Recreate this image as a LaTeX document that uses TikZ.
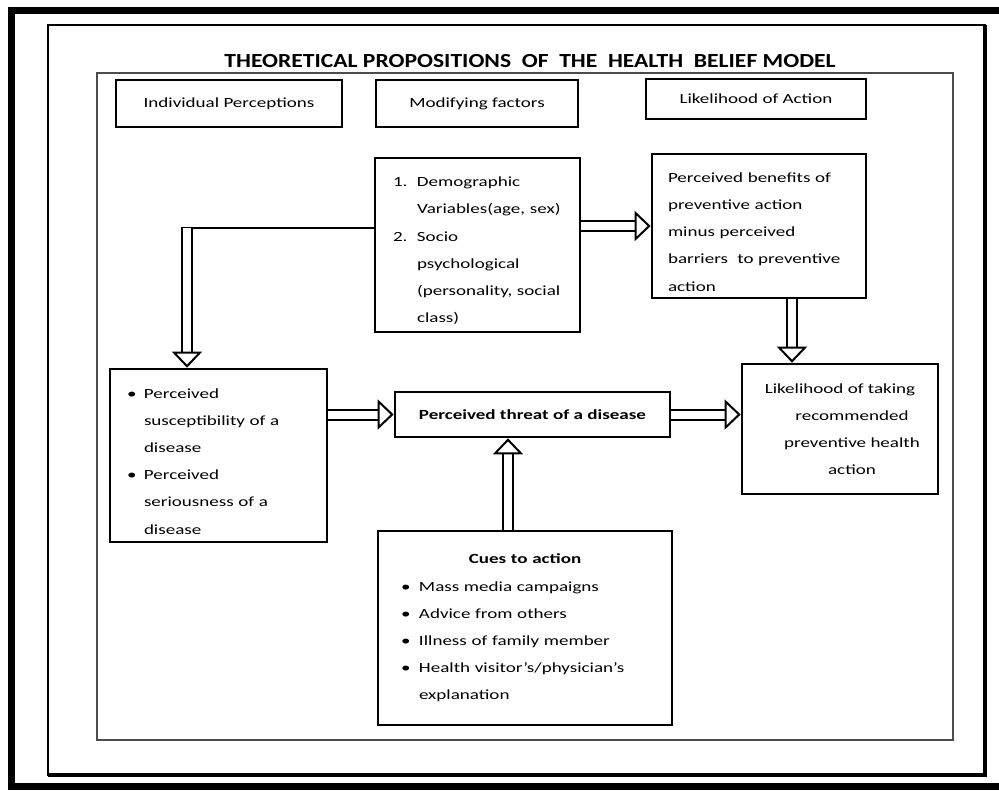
\documentclass[tikz,border=0pt]{standalone}
\usepackage{fontspec}
\setmainfont[FakeStretch=1.36]{Carlito}
\newfontfamily\hbmtitle[FakeStretch=1.18]{Carlito}
\usetikzlibrary{arrows.meta}
\newlength\itmsep
\newcommand{\itm}[2][\textbullet]{\makebox[\itmsep][l]{#1}\mbox{#2}}
\newcommand{\cont}[1]{\hspace*{\itmsep}\mbox{#1}}
\newcommand{\topstrut}{\rule{0pt}{16pt}}
\begin{document}
\begin{tikzpicture}[x=0.75pt,y=-0.75pt,
	box/.style={draw,line width=2pt,inner sep=0pt,font=\fontsize{10.5}{20.4}\selectfont},
	hollow/.style={draw,line width=1.5pt,double,double distance=6pt,-{Triangle[length=12pt,width=22.5pt,line width=1.5pt,fill=white]}}]
	\useasboundingbox (0,0) rectangle (999,790);
	\clip (0,0) rectangle (999,790);
	\draw[line width=5.25pt] (11,10) rectangle (1010,786);
	\draw[line width=1.5pt] (48,25) rectangle (985,775);
	\draw[line width=2.5pt] (985,25) -- (985,775) -- (48,775);
	\draw[black!70,line width=1.5pt] (97,73) rectangle (953,740);
	\node (title) at (530,61) {\hbmtitle\fontsize{15}{18}\selectfont\bfseries THEORETICAL PROPOSITIONS\ \ OF\ \ THE\ \ HEALTH\ \ BELIEF MODEL};
	\node[box,minimum width=169.5pt,minimum height=35.25pt] (hdrIP) at (229,103.5) {Individual Perceptions};
	\node[box,minimum width=151.5pt,minimum height=35.25pt] (hdrMF) at (477,103.5) {Modifying factors};
	\node[box,minimum width=165pt,minimum height=30pt] (hdrLA) at (756,99) {Likelihood of Action};
	\node[box,minimum width=153.75pt,minimum height=130.5pt,text width=126.75pt,align=left] (demo) at (477.5,245)
		{\setlength{\itmsep}{18pt}\topstrut\itm[1.]{Demographic}\\ \cont{Variables(age, sex)}\\ \itm[2.]{Socio}\\ \cont{psychological}\\ \cont{(personality, social}\\ \cont{class)}};
	\node[box,minimum width=160.5pt,minimum height=108pt,text width=136.5pt,align=left] (ben) at (759,226)
		{\topstrut Perceived benefits of\\ preventive action\\ minus perceived\\ barriers\ \ to preventive\\ action};
	\node[box,minimum width=162.75pt,minimum height=129.75pt,text width=137.25pt,align=left] (perc) at (218.5,455.5)
		{\setlength{\itmsep}{12.75pt}\topstrut\itm{Perceived}\\ \cont{susceptibility of a}\\ \cont{disease}\\ \itm{Perceived}\\ \cont{seriousness of a}\\ \cont{disease}};
	\node[box,minimum width=206.25pt,minimum height=33.75pt] (threat) at (532.5,414.5) {\bfseries Perceived threat of a disease};
	\node[box,minimum width=147pt,minimum height=97.5pt,align=center] (lhood) at (840,429)
		{Likelihood of taking\\ \hspace*{18pt}recommended\\ \hspace*{18pt}preventive health\\ \hspace*{18pt}action};
	\node[box,minimum width=220.5pt,minimum height=145.5pt,text width=186pt,align=left] (cues) at (525,628)
		{\setlength{\itmsep}{13.5pt}\makebox[\linewidth][c]{\bfseries Cues to action}\\ \itm{Mass media campaigns}\\ \itm{Advice from others}\\ \itm{Illness of family member}\\ \itm{Health visitor's/physician's}\\ \cont{explanation}};
	\coordinate (bend) at (187,228);
	\draw[line width=1.5pt] (demo.west |- bend) -- ([xshift=-4.5pt]bend);
	\draw[hollow] (bend) -- (bend |- perc.north);
	\draw[hollow] (ben.west -| demo.east) -- (ben.west);
	\draw[hollow] ([xshift=24.75pt]ben.south) -- ([xshift=24.75pt]ben.south |- lhood.north);
	\draw[hollow] (perc.east |- threat.west) -- (threat.west);
	\draw[hollow] (threat.east) -- (threat.east -| lhood.west);
	\draw[hollow] ([xshift=-12.75pt]cues.north) -- ([xshift=-12.75pt]cues.north |- threat.south);
\end{tikzpicture}
\end{document}
